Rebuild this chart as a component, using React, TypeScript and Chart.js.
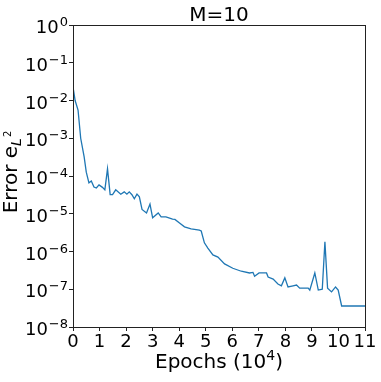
import React, { useEffect, useRef } from "react";
import { Chart, registerables } from "chart.js";

Chart.register(...registerables);

const epochs = [
  0.0, 0.08, 0.19, 0.29, 0.42, 0.5, 0.6, 0.69, 0.79, 0.88, 0.98, 1.11, 1.2, 1.3, 1.4, 1.49,
  1.61, 1.8, 1.93, 2.03, 2.12, 2.22, 2.31, 2.41, 2.5, 2.6, 2.77, 2.9, 3.0, 3.21, 3.32, 3.5,
  3.75, 3.84, 4.0, 4.2, 4.45, 4.76, 4.83, 4.95, 5.08, 5.27, 5.46, 5.71, 6.02, 6.34, 6.65,
  6.78, 6.84, 7.01, 7.29, 7.35, 7.54, 7.72, 7.85, 7.98, 8.1, 8.29, 8.42, 8.54, 8.86, 8.92,
  9.11, 9.24, 9.39, 9.49, 9.59, 9.74, 9.89, 9.99, 10.12, 11.0,
];

const errors = [
  2.3e-2, 1.0e-2, 5.6e-3, 1.0e-3, 3.2e-4, 1.26e-4, 6.6e-5, 7.4e-5, 5.1e-5, 4.8e-5, 5.8e-5,
  5.0e-5, 4.3e-5, 1.55e-4, 3.2e-5, 3.2e-5, 4.3e-5, 3.3e-5, 3.8e-5, 3.3e-5, 3.8e-5, 3.2e-5,
  2.5e-5, 3.3e-5, 2.8e-5, 1.3e-5, 1.05e-5, 1.8e-5, 7.8e-6, 1.05e-5, 8.3e-6, 8.3e-6, 7.2e-6,
  7.1e-6, 5.8e-6, 4.5e-6, 4.0e-6, 3.7e-6, 3.5e-6, 1.7e-6, 1.23e-6, 8.1e-7, 7.1e-7, 4.7e-7,
  3.6e-7, 3.0e-7, 2.7e-7, 2.8e-7, 2.2e-7, 2.7e-7, 2.7e-7, 2.1e-7, 1.86e-7, 1.38e-7, 1.23e-7,
  2.0e-7, 1.15e-7, 1.23e-7, 1.29e-7, 1.07e-7, 1.07e-7, 9.5e-8, 2.7e-7, 9.5e-8, 1.0e-7,
  1.8e-6, 1.07e-7, 8.5e-8, 1.15e-7, 9.5e-8, 3.6e-8, 3.6e-8,
];

const xTicks = [0, 1, 2, 3, 4, 5, 6, 7, 8, 9, 10, 11];
const yTickValues = [1, 1e-1, 1e-2, 1e-3, 1e-4, 1e-5, 1e-6, 1e-7, 1e-8];
const yTickExponents = ["0", "\u22121", "\u22122", "\u22123", "\u22124", "\u22125", "\u22126", "\u22127", "\u22128"];

const titleText = "M=10";
const xLabelMain = "Epochs (10";
const xLabelSup = "4";
const xLabelEnd = ")";
const yLabelMain = "Error e";
const yLabelSub = "L";
const yLabelSup = "2";

const FONT = "'DejaVu Sans', sans-serif";

const textPlugin = {
  id: "mplText",
  afterDraw(chart: any) {
    const { ctx, chartArea } = chart;
    const { left, right, top, bottom } = chartArea;
    const yScale = chart.scales.y;
    ctx.save();
    // spines
    ctx.strokeStyle = "#222";
    ctx.lineWidth = 1;
    ctx.strokeRect(Math.round(left) + 0.5, Math.round(top) + 0.5, Math.round(right - left), Math.round(bottom - top));

    ctx.fillStyle = "#000";
    ctx.textBaseline = "alphabetic";
    ctx.textAlign = "left";

    // y tick labels
    yTickValues.forEach((v, i) => {
      const py = yScale.getPixelForValue(v);
      ctx.font = `18px ${FONT}`;
      const wMain = ctx.measureText("10").width;
      ctx.font = `13px ${FONT}`;
      const wExp = ctx.measureText(yTickExponents[i]).width;
      const x0 = left - 6 - wExp - wMain;
      ctx.font = `18px ${FONT}`;
      ctx.fillText("10", x0, py + 8);
      ctx.font = `13px ${FONT}`;
      ctx.fillText(yTickExponents[i], x0 + wMain + 1, py + 1);
    });

    // title
    ctx.font = `20px ${FONT}`;
    ctx.textAlign = "center";
    ctx.fillText(titleText, (left + right) / 2, 21);

    // x label
    ctx.textAlign = "left";
    ctx.font = `20px ${FONT}`;
    const w1 = ctx.measureText(xLabelMain).width;
    const w3 = ctx.measureText(xLabelEnd).width;
    ctx.font = `14px ${FONT}`;
    const w2 = ctx.measureText(xLabelSup).width;
    const total = w1 + w2 + w3;
    let xs = (left + right) / 2 - total / 2;
    const base = 368;
    ctx.font = `20px ${FONT}`;
    ctx.fillText(xLabelMain, xs, base);
    ctx.font = `14px ${FONT}`;
    ctx.fillText(xLabelSup, xs + w1, base - 8);
    ctx.font = `20px ${FONT}`;
    ctx.fillText(xLabelEnd, xs + w1 + w2, base);

    // y label (rotated)
    ctx.translate(17, (top + bottom) / 2 - 4);
    ctx.rotate(-Math.PI / 2);
    ctx.font = `20px ${FONT}`;
    const a = ctx.measureText(yLabelMain).width;
    ctx.font = `italic 14px ${FONT}`;
    const b = ctx.measureText(yLabelSub).width;
    ctx.font = `10px ${FONT}`;
    const c = ctx.measureText(yLabelSup).width;
    const tot = a + b + c + 1;
    const s = -tot / 2;
    ctx.font = `20px ${FONT}`;
    ctx.fillText(yLabelMain, s, 0);
    ctx.font = `italic 14px ${FONT}`;
    ctx.fillText(yLabelSub, s + a, 4);
    ctx.font = `10px ${FONT}`;
    ctx.fillText(yLabelSup, s + a + b + 1, -6);
    ctx.restore();
  },
};

export default function App() {
  const canvasRef = useRef<HTMLCanvasElement | null>(null);

  useEffect(() => {
    const canvas = canvasRef.current;
    if (!canvas) return;
    const points = epochs.map((x, i) => ({ x, y: errors[i] }));
    const chart = new Chart(canvas, {
      type: "line",
      data: {
        datasets: [
          {
            data: points,
            borderColor: "#1f77b4",
            borderWidth: 1.3,
            pointRadius: 0,
            tension: 0,
            fill: false,
          },
        ],
      },
      options: {
        animation: false,
        responsive: false,
        devicePixelRatio: 1,
        layout: { padding: { top: 25, right: 16, left: 0, bottom: 0 } },
        plugins: { legend: { display: false }, tooltip: { enabled: false }, title: { display: false } },
        scales: {
          x: {
            type: "linear",
            min: 0,
            max: 11,
            afterBuildTicks: (scale: any) => {
              scale.ticks = xTicks.map((v) => ({ value: v }));
            },
            afterFit: (scale: any) => {
              scale.height = 55;
            },
            ticks: {
              font: { family: FONT, size: 18 },
              color: "#000",
              padding: 1,
              maxRotation: 0,
              autoSkip: false,
              callback: (v: any) => String(v),
            },
            grid: { display: true, drawOnChartArea: false, drawTicks: true, tickLength: 4, color: "#222" },
            border: { display: true, color: "#222" },
          },
          y: {
            type: "logarithmic",
            min: 1e-8,
            max: 1,
            afterBuildTicks: (scale: any) => {
              scale.ticks = yTickValues.map((v) => ({ value: v }));
            },
            afterFit: (scale: any) => {
              scale.width = 73;
            },
            ticks: {
              callback: () => "",
              autoSkip: false,
            },
            grid: { display: true, drawOnChartArea: false, drawTicks: true, tickLength: 4, color: "#222" },
            border: { display: true, color: "#222" },
          },
        },
      },
      plugins: [textPlugin],
    } as any);
    return () => chart.destroy();
  }, []);

  return (
    <div style={{ position: "absolute", left: 0, top: 0, width: 381, height: 382, background: "#fff" }}>
      <canvas ref={canvasRef} width={381} height={382} style={{ width: 381, height: 382 }} />
    </div>
  );
}
